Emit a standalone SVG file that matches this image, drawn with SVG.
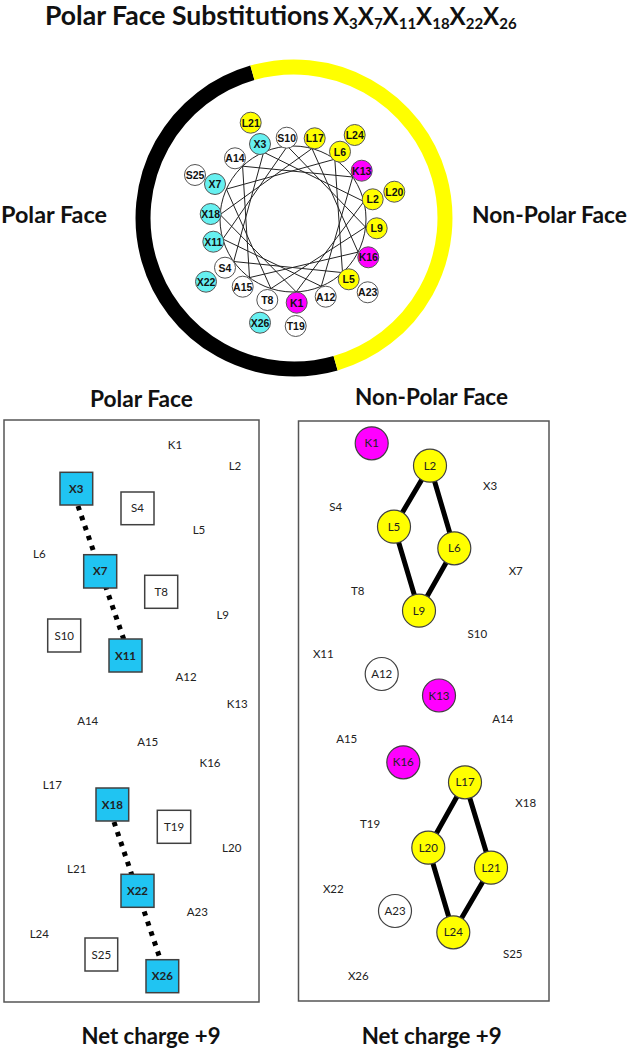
<svg xmlns="http://www.w3.org/2000/svg" width="628" height="1050" viewBox="0 0 628 1050">
<style>
.hd{font-family:Lato,"Open Sans","Liberation Sans",sans-serif;font-weight:bold;fill:#111}
.wn circle{stroke:#555;stroke-width:1}
.wn text{font-family:"Liberation Sans",Arial,sans-serif;font-weight:bold;font-size:10.5px;text-anchor:middle;fill:#111}
.w{fill:#fff}.c{fill:#66f0f0}.y{fill:#ffff00}.m{fill:#ff00ff}
.lab{font-family:Lato,"Open Sans","Liberation Sans",sans-serif;font-size:11.5px;text-anchor:middle;fill:#222}
.sq rect{stroke:#404040;stroke-width:1.5}
.sqc{fill:#20c4f2}
.bold{font-weight:bold}
.rc circle{stroke:#404040;stroke-width:1.2}
.dot{stroke:#000;stroke-width:5;stroke-dasharray:4.5 6;fill:none}
.thick{stroke:#000;stroke-width:5;fill:none}
.box{fill:none;stroke:#555;stroke-width:1.5}
</style>
<rect width="628" height="1050" fill="#fff"/>
<text class="hd" x="45" y="25" font-size="26" textLength="284" lengthAdjust="spacingAndGlyphs">Polar Face Substitutions</text>
<text class="hd" x="333" y="25" font-size="24">X<tspan font-size="15" dy="4">3</tspan><tspan dy="-4">X</tspan><tspan font-size="15" dy="4">7</tspan><tspan dy="-4">X</tspan><tspan font-size="15" dy="4">11</tspan><tspan dy="-4">X</tspan><tspan font-size="15" dy="4">18</tspan><tspan dy="-4">X</tspan><tspan font-size="15" dy="4">22</tspan><tspan dy="-4">X</tspan><tspan font-size="15" dy="4">26</tspan></text>
<text class="hd" x="1" y="223" font-size="22" textLength="106" lengthAdjust="spacingAndGlyphs">Polar Face</text>
<text class="hd" x="472" y="223" font-size="22" textLength="155" lengthAdjust="spacingAndGlyphs">Non-Polar Face</text>
<g id="ring">
<path d="M252.4 72.8 A151 151 0 0 0 335.6 363.2" fill="none" stroke="#000" stroke-width="15"/>
<path d="M252.4 72.8 A151 151 0 0 1 335.6 363.2" fill="none" stroke="#ffff00" stroke-width="15"/>
</g>
<g id="wheel-connectors" fill="none" stroke="#222" stroke-width="1">
<circle cx="293" cy="219" r="73"/>
<polygon points="296.2,291.9 363.9,201.5 263.6,152.2 233.7,261.5 342.5,272.6 334.8,159.2 226.4,189.1 270.9,288.6 365.5,227.1 287.4,146.2 222.8,239.0 321.3,286.3 352.7,177.0 242.6,166.2 249.5,277.6 358.1,252.1 312.0,148.5 220.1,214.6"/>
</g>
<g id="wheel-nodes" class="wn">
<g id="w-K1"><circle class="m" cx="296.7" cy="302.7" r="10.5"/><text x="296.7" y="306.5">K1</text></g>
<g id="w-L2"><circle class="y" cx="372.7" cy="199.3" r="10.5"/><text x="372.7" y="203.1">L2</text></g>
<g id="w-X3"><circle class="c" cx="260" cy="144" r="10.5"/><text x="260" y="147.8">X3</text></g>
<g id="w-S4"><circle class="w" cx="225" cy="267.7" r="10.5"/><text x="225" y="271.5">S4</text></g>
<g id="w-L5"><circle class="y" cx="348.7" cy="279.3" r="10.5"/><text x="348.7" y="283.1">L5</text></g>
<g id="w-L6"><circle class="y" cx="340" cy="151.7" r="10.5"/><text x="340" y="155.5">L6</text></g>
<g id="w-X7"><circle class="c" cx="215" cy="184" r="10.5"/><text x="215" y="187.8">X7</text></g>
<g id="w-T8"><circle class="w" cx="267.3" cy="300" r="10.5"/><text x="267.3" y="303.8">T8</text></g>
<g id="w-L9"><circle class="y" cx="376.7" cy="228.3" r="10.5"/><text x="376.7" y="232.1">L9</text></g>
<g id="w-S10"><circle class="w" cx="286.7" cy="137.7" r="10.5"/><text x="286.7" y="141.5">S10</text></g>
<g id="w-X11"><circle class="c" cx="213.3" cy="241.7" r="10.5"/><text x="213.3" y="245.5">X11</text></g>
<g id="w-A12"><circle class="w" cx="325.7" cy="296.7" r="10.5"/><text x="325.7" y="300.5">A12</text></g>
<g id="w-K13"><circle class="m" cx="361.7" cy="170.7" r="10.5"/><text x="361.7" y="174.5">K13</text></g>
<g id="w-A14"><circle class="w" cx="235" cy="158.3" r="10.5"/><text x="235" y="162.1">A14</text></g>
<g id="w-A15"><circle class="w" cx="242.7" cy="286.7" r="10.5"/><text x="242.7" y="290.5">A15</text></g>
<g id="w-K16"><circle class="m" cx="368.3" cy="257.3" r="10.5"/><text x="368.3" y="261.1">K16</text></g>
<g id="w-L17"><circle class="y" cx="314.7" cy="138.3" r="10.5"/><text x="314.7" y="142.1">L17</text></g>
<g id="w-X18"><circle class="c" cx="210.7" cy="214" r="10.5"/><text x="210.7" y="217.8">X18</text></g>
<g id="w-T19"><circle class="w" cx="295.7" cy="326" r="10.5"/><text x="295.7" y="329.8">T19</text></g>
<g id="w-L20"><circle class="y" cx="394.3" cy="191.7" r="10.5"/><text x="394.3" y="195.5">L20</text></g>
<g id="w-L21"><circle class="y" cx="250.7" cy="122.7" r="10.5"/><text x="250.7" y="126.5">L21</text></g>
<g id="w-X22"><circle class="c" cx="206" cy="281.7" r="10.5"/><text x="206" y="285.5">X22</text></g>
<g id="w-A23"><circle class="w" cx="367.7" cy="292.3" r="10.5"/><text x="367.7" y="296.1">A23</text></g>
<g id="w-L24"><circle class="y" cx="354.7" cy="135" r="10.5"/><text x="354.7" y="138.8">L24</text></g>
<g id="w-S25"><circle class="w" cx="195" cy="175" r="10.5"/><text x="195" y="178.8">S25</text></g>
<g id="w-X26"><circle class="c" cx="260" cy="322.7" r="10.5"/><text x="260" y="326.5">X26</text></g>
</g>

<text class="hd" x="141.5" y="406.5" font-size="22" text-anchor="middle" textLength="103" lengthAdjust="spacingAndGlyphs">Polar Face</text>
<text class="hd" x="431.5" y="405" font-size="22" text-anchor="middle" textLength="153" lengthAdjust="spacingAndGlyphs">Non-Polar Face</text>
<rect class="box" x="4" y="420" width="255" height="582"/>
<rect class="box" x="298.5" y="421" width="250.5" height="580"/>

<g id="left-connectors">
<line class="dot" x1="78" y1="506" x2="124" y2="640"/>
<line class="dot" x1="114" y1="822" x2="160.5" y2="960"/>
</g>
<g id="left-nodes" class="lab">
<g id="p-K1"><text x="175" y="449">K1</text></g>
<g id="p-L2"><text x="235" y="470">L2</text></g>
<g id="p-X3" class="sq"><rect class="sqc" x="60" y="472.3" width="32.7" height="32.7"/><text class="bold" x="76.3" y="492.7">X3</text></g>
<g id="p-S4" class="sq"><rect fill="#fff" x="121" y="492" width="33" height="32.7"/><text x="137.5" y="512.3">S4</text></g>
<g id="p-L5"><text x="199" y="534">L5</text></g>
<g id="p-L6"><text x="39.3" y="558">L6</text></g>
<g id="p-X7" class="sq"><rect class="sqc" x="83.7" y="554.7" width="33" height="33.3"/><text class="bold" x="100.2" y="575.3">X7</text></g>
<g id="p-T8" class="sq"><rect fill="#fff" x="144.7" y="575.3" width="33" height="33"/><text x="161.2" y="595.8">T8</text></g>
<g id="p-L9"><text x="222.7" y="619">L9</text></g>
<g id="p-S10" class="sq"><rect fill="#fff" x="47.7" y="619" width="33" height="33"/><text x="64.2" y="639.5">S10</text></g>
<g id="p-X11" class="sq"><rect class="sqc" x="109" y="639" width="33" height="33"/><text class="bold" x="125.5" y="659.5">X11</text></g>
<g id="p-A12"><text x="186" y="680.7">A12</text></g>
<g id="p-K13"><text x="237.3" y="708">K13</text></g>
<g id="p-A14"><text x="87.7" y="724.7">A14</text></g>
<g id="p-A15"><text x="147.7" y="746.3">A15</text></g>
<g id="p-K16"><text x="210" y="767.3">K16</text></g>
<g id="p-L17"><text x="52.3" y="789">L17</text></g>
<g id="p-X18" class="sq"><rect class="sqc" x="96" y="788" width="32.7" height="33"/><text class="bold" x="112.3" y="808.5">X18</text></g>
<g id="p-T19" class="sq"><rect fill="#fff" x="157.3" y="810.3" width="33.4" height="33"/><text x="174" y="830.8">T19</text></g>
<g id="p-L20"><text x="231.7" y="852.3">L20</text></g>
<g id="p-L21"><text x="76.7" y="873.3">L21</text></g>
<g id="p-X22" class="sq"><rect class="sqc" x="121" y="874.3" width="33" height="33"/><text class="bold" x="137.5" y="894.8">X22</text></g>
<g id="p-A23"><text x="197.3" y="915.7">A23</text></g>
<g id="p-L24"><text x="39.3" y="938">L24</text></g>
<g id="p-S25" class="sq"><rect fill="#fff" x="85" y="938" width="32.7" height="33"/><text x="101.3" y="958.5">S25</text></g>
<g id="p-X26" class="sq"><rect class="sqc" x="146" y="959.7" width="32.7" height="33"/><text class="bold" x="162.3" y="980.2">X26</text></g>
</g>

<g id="right-connectors">
<polygon class="thick" points="430,465.7 394,526.7 419,610.7 454.3,548.3"/>
<polygon class="thick" points="465,782.3 428.3,847.7 453.3,932.3 491,867.7"/>
</g>
<g id="right-nodes" class="lab">
<g id="n-K1" class="rc"><circle class="m" cx="371.7" cy="443.3" r="16.5"/><text x="371.7" y="447.3">K1</text></g>
<g id="n-L2" class="rc"><circle class="y" cx="430" cy="465.7" r="16.5"/><text x="430" y="469.7">L2</text></g>
<g id="n-X3"><text x="490" y="490">X3</text></g>
<g id="n-S4"><text x="335.7" y="511.3">S4</text></g>
<g id="n-L5" class="rc"><circle class="y" cx="394" cy="526.7" r="16.5"/><text x="394" y="530.7">L5</text></g>
<g id="n-L6" class="rc"><circle class="y" cx="454.3" cy="548.3" r="16.5"/><text x="454.3" y="552.3">L6</text></g>
<g id="n-X7"><text x="515.7" y="574.7">X7</text></g>
<g id="n-T8"><text x="357.7" y="595">T8</text></g>
<g id="n-L9" class="rc"><circle class="y" cx="419" cy="610.7" r="16.5"/><text x="419" y="614.7">L9</text></g>
<g id="n-S10"><text x="477.3" y="638">S10</text></g>
<g id="n-X11"><text x="323.3" y="658">X11</text></g>
<g id="n-A12" class="rc"><circle class="w" cx="381.7" cy="674" r="16.5"/><text x="381.7" y="678">A12</text></g>
<g id="n-K13" class="rc"><circle class="m" cx="439" cy="695.5" r="16.5"/><text x="439" y="699.5">K13</text></g>
<g id="n-A14"><text x="502.7" y="723">A14</text></g>
<g id="n-A15"><text x="346.7" y="743">A15</text></g>
<g id="n-K16" class="rc"><circle class="m" cx="403.3" cy="762.3" r="16.5"/><text x="403.3" y="766.3">K16</text></g>
<g id="n-L17" class="rc"><circle class="y" cx="465" cy="782.3" r="16.5"/><text x="465" y="786.3">L17</text></g>
<g id="n-X18"><text x="525.7" y="807.3">X18</text></g>
<g id="n-T19"><text x="370" y="828.3">T19</text></g>
<g id="n-L20" class="rc"><circle class="y" cx="428.3" cy="847.7" r="16.5"/><text x="428.3" y="851.7">L20</text></g>
<g id="n-L21" class="rc"><circle class="y" cx="491" cy="867.7" r="16.5"/><text x="491" y="871.7">L21</text></g>
<g id="n-X22"><text x="333.3" y="893">X22</text></g>
<g id="n-A23" class="rc"><circle class="w" cx="395" cy="911" r="16.5"/><text x="395" y="915">A23</text></g>
<g id="n-L24" class="rc"><circle class="y" cx="453.3" cy="932.3" r="16.5"/><text x="453.3" y="936.3">L24</text></g>
<g id="n-S25"><text x="512.7" y="958">S25</text></g>
<g id="n-X26"><text x="358.3" y="980">X26</text></g>
</g>

<text class="hd" x="151" y="1043.5" font-size="22" text-anchor="middle" textLength="139" lengthAdjust="spacingAndGlyphs">Net charge +9</text>
<text class="hd" x="431.7" y="1043.5" font-size="22" text-anchor="middle" textLength="140" lengthAdjust="spacingAndGlyphs">Net charge +9</text>
</svg>
